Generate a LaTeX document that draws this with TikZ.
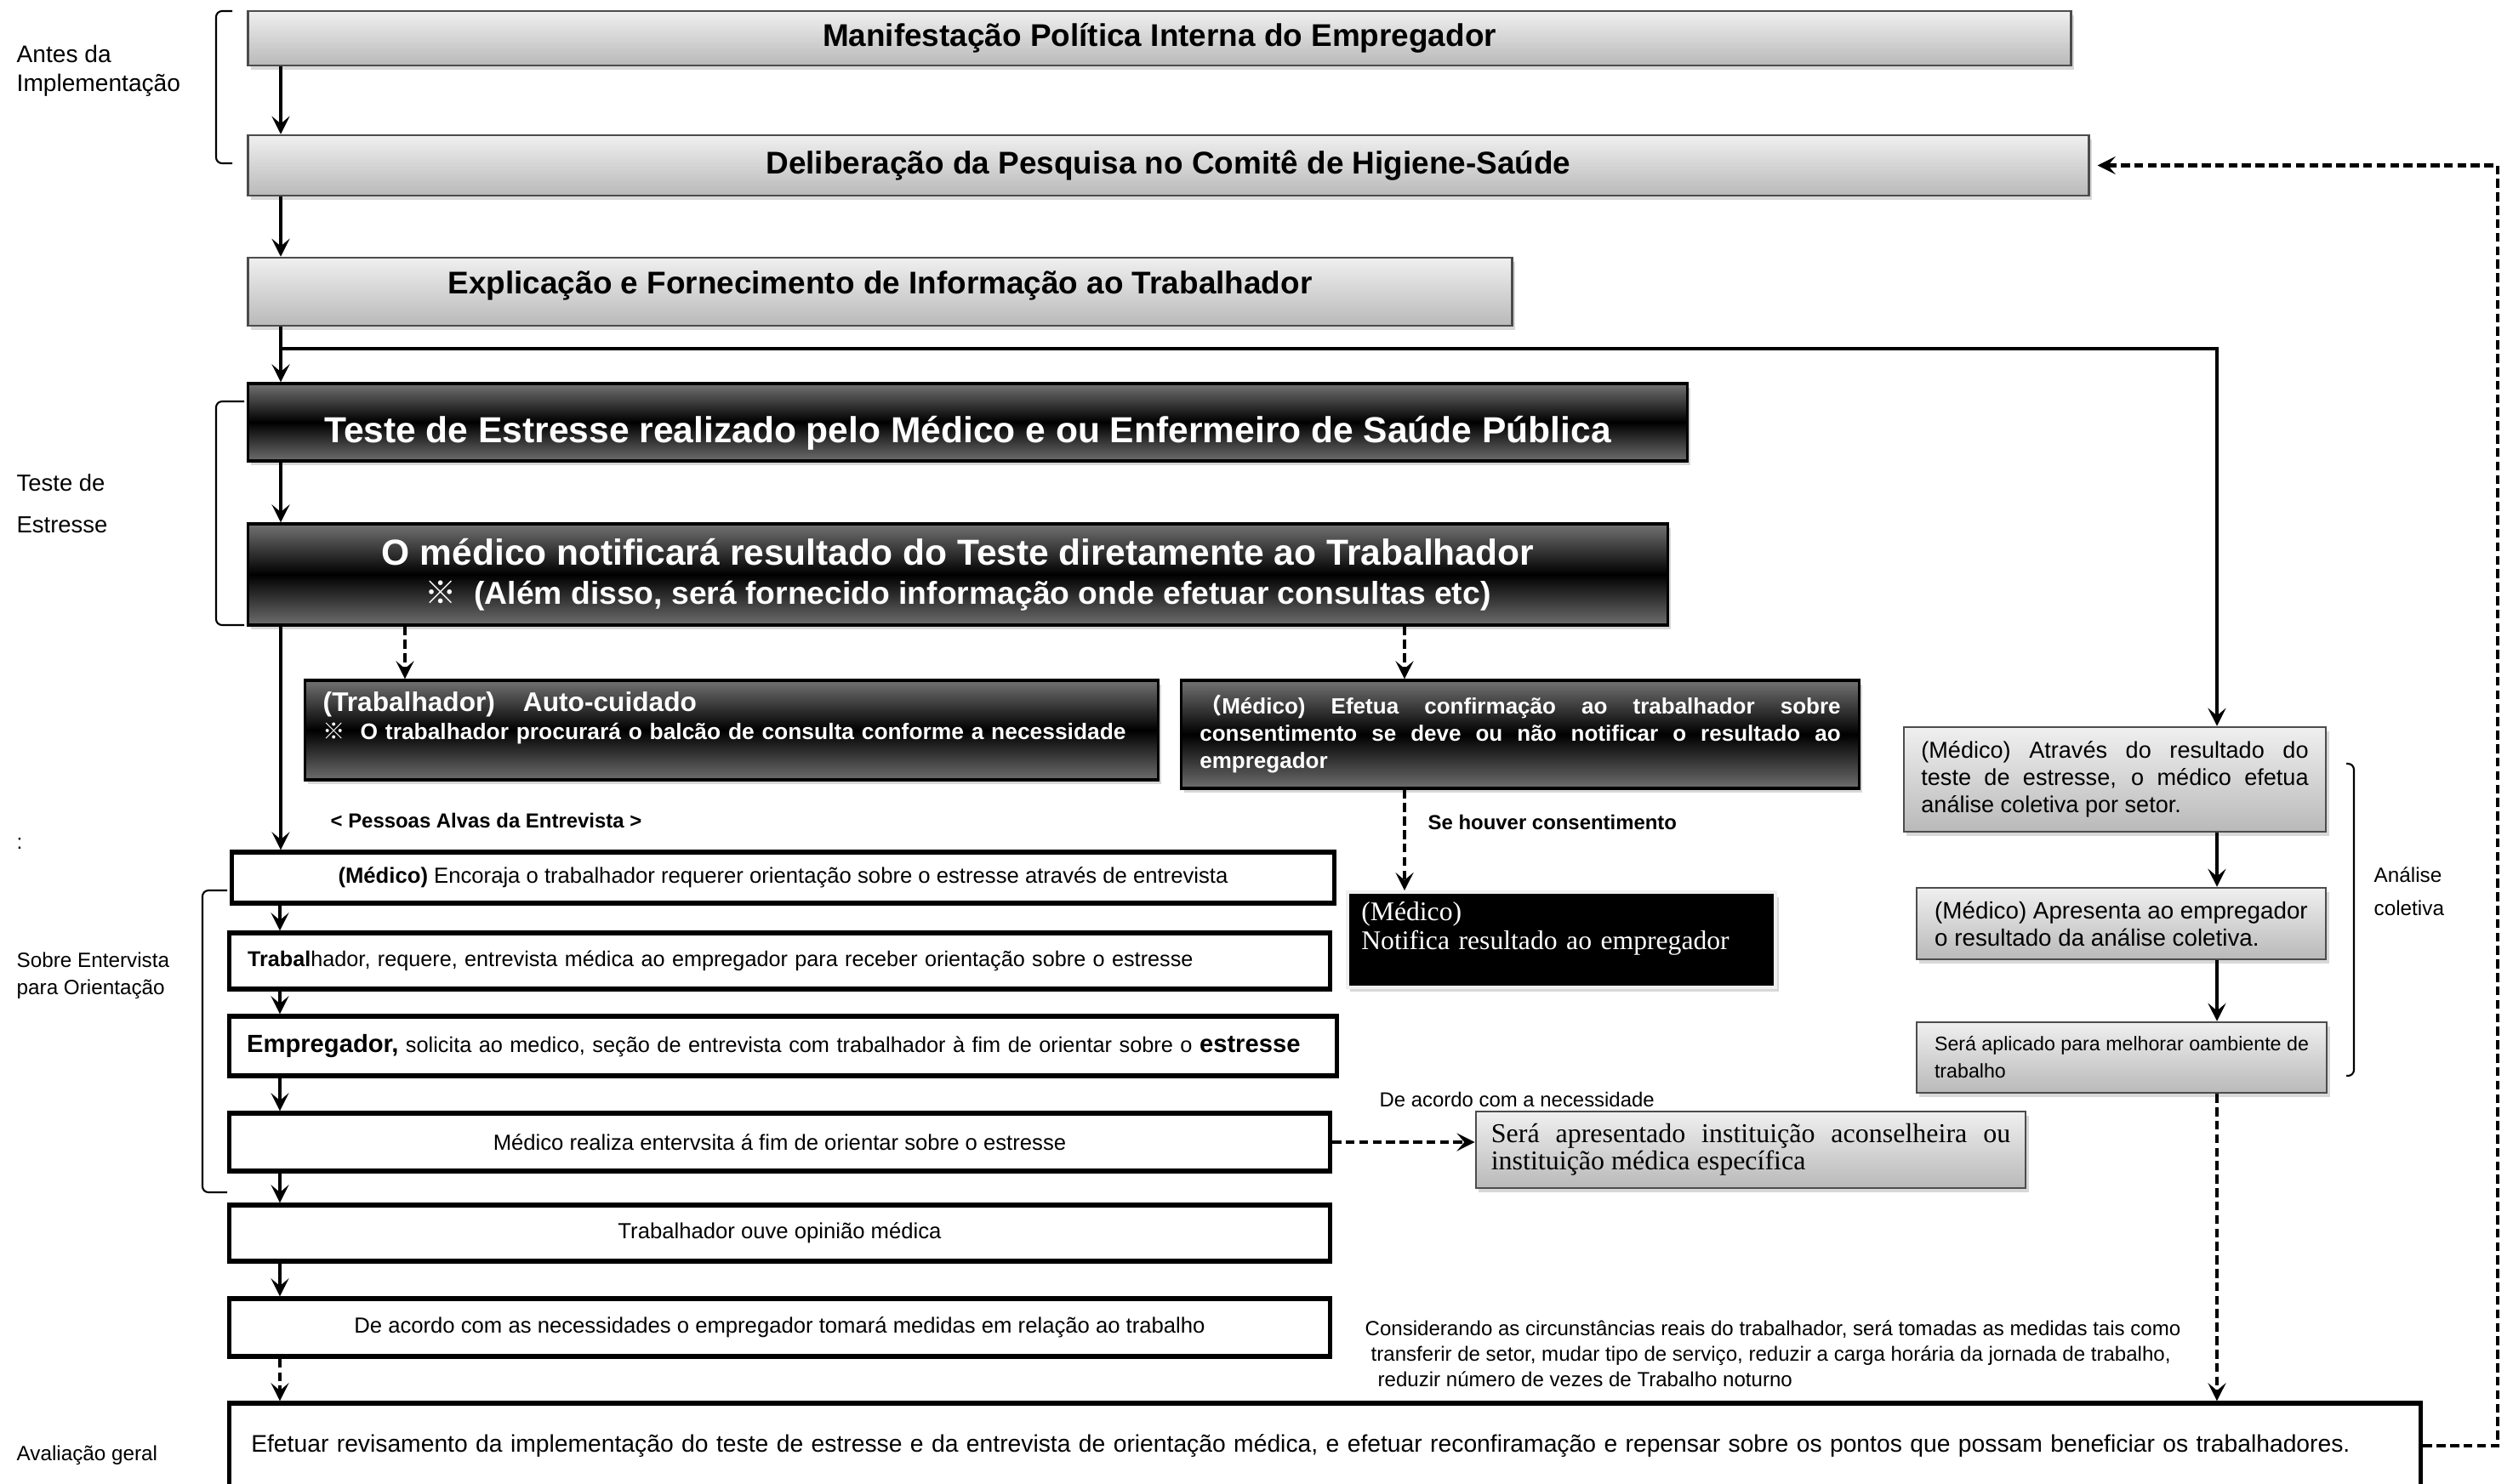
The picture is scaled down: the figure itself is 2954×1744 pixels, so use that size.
\documentclass[tikz,border=0pt]{standalone}
\usepackage{fontspec}
\setmainfont{Liberation Sans}
\newfontfamily\serifont{Liberation Serif}
\newfontfamily\cjk{Noto Sans CJK JP}
\usetikzlibrary{arrows.meta,shadows}
\newcommand{\fsz}[2]{\fontsize{#1pt}{#2pt}\selectfont}
\tikzset{
 shade box/.style={drop shadow={opacity=0.3, shadow xshift=1pt, shadow yshift=-1.5pt}},
 graybox/.style={draw=gray!60!black, line width=0.7pt, top color=gray!12,
   bottom color=gray!55, shade box},
 topbox/.style={graybox, font=\bfseries\fsz{10.5}{12}},
 sidebox/.style={graybox, font=\fsz{7.7}{9.1}},
 darkbox/.style={draw=black, line width=0.9pt, top color=black!55,
   bottom color=black!57, middle color=black, text=white, shade box},
 whitebox/.style={draw=black, line width=1.5pt, fill=white, font=\fsz{7.3}{8.6}},
 blackbox/.style={draw=gray!12, line width=1.2pt, fill=black, text=white, shade box},
 lbl/.style={anchor=west, align=left, inner sep=0pt},
 arr/.style={line width=0.9pt, -{Stealth[length=6pt,width=6pt,inset=2.5pt]}},
 darr/.style={arr, dash pattern=on 3pt off 1.5pt},
 fbarr/.style={darr, line width=1.3pt, shorten >=2.5pt},
 brk/.style={line width=0.6pt, rounded corners=2pt},
}

\begin{document}
\begin{tikzpicture}[x=0.01cm, y=-0.01cm]
    \useasboundingbox (0,0) rectangle (2954,1744);
    \fill[white] (0,0) rectangle (2954,1744);

    % phase labels and brackets
    \node[lbl, font=\fsz{8}{9.7}] (antes) at (19,83) {Antes da\\Implementação};
    \node[lbl, font=\fsz{7.8}{14}] (estresse) at (19,592) {Teste de\\Estresse};
    \node[lbl, font=\fsz{7}{8}] (dots) at (19,992) {:};
    \node[lbl, font=\fsz{6.9}{9.1}] (sobre) at (19,1147) {Sobre Entervista\\para Orientação};
    \node[lbl, font=\fsz{6.9}{8}] (avalia) at (19,1711) {Avaliação geral};
    \node[lbl, font=\fsz{6.9}{11}] (analise) at (2790,1048) {Análise\\coletiva};
    \draw[brk] (273,13) -- (254,13) -- (254,192) -- (273,192);
    \draw[brk] (287,472) -- (254,472) -- (254,735) -- (287,735);
    \draw[brk] (267,1047) -- (238,1047) -- (238,1402) -- (267,1402);
    \draw[brk] (2758,898) -- (2767,898) -- (2767,1265) -- (2758,1265);

    % top of the flow
    \node[topbox, minimum width=21.42cm, minimum height=0.64cm] (politica) at (1363,45)
        {Manifestação Política Interna do Empregador};
    \node[topbox, minimum width=21.63cm, minimum height=0.71cm] (comite) at (1373.5,194.5)
        {Deliberação da Pesquisa no Comitê de Higiene-Saúde};
    \node[topbox, minimum width=14.85cm, minimum height=0.80cm, text height=0.3cm, text depth=0.26cm] (explic) at (1034.5,343)
        {Explicação e Fornecimento de Informação ao Trabalhador};
    \node[darkbox, minimum width=16.91cm, minimum height=0.91cm, text height=0.5cm, text depth=0.03cm, font=\bfseries\fsz{12.1}{14}] (teste) at (1137.5,496.5)
        {Teste de Estresse realizado pelo Médico e ou Enfermeiro de Saúde Pública};
    \node[darkbox, minimum width=16.68cm, minimum height=1.19cm, align=center, font=\bfseries\fsz{12.1}{13.2}] (notif) at (1126,675.5)
        {O médico notificará resultado do Teste diretamente ao Trabalhador\\
         {\fsz{10.6}{12}{\cjk ※}\ \ (Além disso, será fornecido informação onde efetuar consultas etc)}};

    % after the result
    \node[darkbox, minimum width=10.02cm, minimum height=1.17cm, text width=9.6cm, align=left, font=\bfseries\fsz{7.5}{9.4}] (autocuid) at (860,858.5)
        {{\fsz{9}{9.4}(Trabalhador)\hspace{0.33cm}Auto-cuidado}\\{\cjk ※}\ \ O trabalhador procurará o balcão de consulta conforme a necessidade\\ \mbox{}};
    \node[darkbox, minimum width=7.96cm, minimum height=1.27cm, text width=7.53cm, align=justify, font=\bfseries\fsz{7.4}{9.1}] (confirma) at (1787,863.5)
        {{\cjk （}Médico) Efetua confirmação ao trabalhador sobre\linebreak consentimento se deve ou não notificar o resultado ao\linebreak empregador};
    \node[blackbox, minimum width=5.03cm, minimum height=1.06cm, text width=4.7cm, align=left, font=\serifont\fsz{9}{9.4}] (notifemp) at (1835.5,1105)
        {(Médico)\\Notifica resultado ao empregador\\ \mbox{}};
    \node[lbl, font=\bfseries\fsz{6.8}{8}] (alvas) at (388,965) {< Pessoas Alvas da Entrevista >};
    \node[lbl, font=\bfseries\fsz{6.8}{8}] (consent) at (1678,967) {Se houver consentimento};

    % interview for guidance
    \node[whitebox, minimum width=12.95cm, minimum height=0.60cm] (encoraja) at (920.5,1032)
        {\textbf{(Médico)} Encoraja o trabalhador requerer orientação sobre o estresse através de entrevista};
    \node[whitebox, minimum width=12.93cm, minimum height=0.66cm, text width=12.5cm, align=left, font=\fsz{7.17}{8.6}] (requere) at (916.5,1130)
        {\textbf{Trabal}hador, requere, entrevista médica ao empregador para receber orientação sobre o estresse};
    \node[whitebox, minimum width=13.01cm, minimum height=0.70cm, text width=12.6cm, align=left, font=\fsz{7.2}{8.6}] (solicita) at (920.5,1230)
        {{\bfseries\fsz{8.3}{9}Empregador,} solicita ao medico, seção de entrevista com trabalhador à fim de orientar sobre o {\bfseries\fsz{8.3}{9}estresse}};
    \node[whitebox, minimum width=12.93cm, minimum height=0.68cm] (entrevista) at (916.5,1343)
        {Médico realiza entervsita á fim de orientar sobre o estresse};
    \node[whitebox, minimum width=12.93cm, minimum height=0.66cm] (ouve) at (916.5,1450)
        {Trabalhador ouve opinião médica};
    \node[whitebox, minimum width=12.93cm, minimum height=0.68cm] (medidas) at (916.5,1561)
        {De acordo com as necessidades o empregador tomará medidas em relação ao trabalho};
    \node[lbl, font=\fsz{6.8}{8}] (necess) at (1621,1293) {De acordo com a necessidade};
    \node[graybox, minimum width=6.46cm, minimum height=0.90cm, text width=6.1cm, align=justify, font=\serifont\fsz{9.1}{9.2}] (inst) at (2058,1352)
        {Será apresentado instituição aconselheira ou\linebreak instituição médica específica};
    \node[lbl, font=\fsz{6.84}{8.5}] (consid) at (1604,1592)
        {Considerando as circunstâncias reais do trabalhador, será tomadas as medidas tais como\\
         \hspace*{0.07cm}transferir de setor, mudar tipo de serviço, reduzir a carga horária da jornada de trabalho,\\
         \hspace*{0.15cm}reduzir número de vezes de Trabalho noturno};

    % collective analysis
    \node[sidebox, minimum width=4.96cm, minimum height=1.23cm, text width=4.55cm, align=justify] (coletiva) at (2486,916.5)
        {(Médico) Através do resultado do\linebreak teste de estresse, o médico efetua\linebreak análise coletiva por setor.};
    \node[sidebox, minimum width=4.81cm, minimum height=0.84cm, align=left, font=\fsz{7.9}{9.1}] (apresenta) at (2493.5,1086)
        {(Médico) Apresenta ao empregador\\o resultado da análise coletiva.};
    \node[sidebox, minimum width=4.82cm, minimum height=0.83cm, align=left, font=\fsz{6.6}{9.1}] (melhorar) at (2494,1243.5)
        {Será aplicado para melhorar oambiente de\\trabalho};

    % overall evaluation
    \node[whitebox, minimum width=25.75cm, minimum height=1.0cm, text width=25.23cm, align=left, font=\fsz{8.04}{9.5}] (revisa) at (1557.5,1700)
        {Efetuar revisamento da implementação do teste de estresse e da entrevista de orientação médica, e efetuar reconfiramação e repensar sobre os pontos que possam beneficiar os trabalhadores.};

    % connectors
    \coordinate (spine) at (330,0);
    \coordinate (lspine) at (329,0);
    \coordinate (rspine) at (2606,0);
    \coordinate (dl) at (476,0);
    \coordinate (dr) at (1651,0);
    \coordinate (fb) at (2936,0);
    \coordinate (junc) at (330,410);
    \draw[arr] (politica.south -| spine) -- (comite.north -| spine);
    \draw[arr] (comite.south -| spine) -- (explic.north -| spine);
    \draw[arr] (explic.south -| spine) -- (teste.north -| spine);
    \draw[arr] (junc) -| (coletiva.north -| rspine);
    \draw[arr] (teste.south -| spine) -- (notif.north -| spine);
    \draw[arr] (notif.south -| spine) -- (encoraja.north -| spine);
    \draw[darr] (notif.south -| dl) -- (autocuid.north -| dl);
    \draw[darr] (notif.south -| dr) -- (confirma.north -| dr);
    \draw[darr] (confirma.south -| dr) -- (notifemp.north -| dr);
    \draw[arr] (encoraja.south -| lspine) -- (requere.north -| lspine);
    \draw[arr] (requere.south -| lspine) -- (solicita.north -| lspine);
    \draw[arr] (solicita.south -| lspine) -- (entrevista.north -| lspine);
    \draw[arr] (entrevista.south -| lspine) -- (ouve.north -| lspine);
    \draw[arr] (ouve.south -| lspine) -- (medidas.north -| lspine);
    \draw[darr] (medidas.south -| lspine) -- (revisa.north -| lspine);
    \draw[darr] (entrevista.east) -- (inst.west |- entrevista.east);
    \draw[arr] (coletiva.south -| rspine) -- (apresenta.north -| rspine);
    \draw[arr] (apresenta.south -| rspine) -- (melhorar.north -| rspine);
    \draw[darr] (melhorar.south -| rspine) -- (revisa.north -| rspine);
    \draw[fbarr] (revisa.east) -- (revisa.east -| fb) -- (comite.east -| fb) -- (comite.east);
\end{tikzpicture}
\end{document}
